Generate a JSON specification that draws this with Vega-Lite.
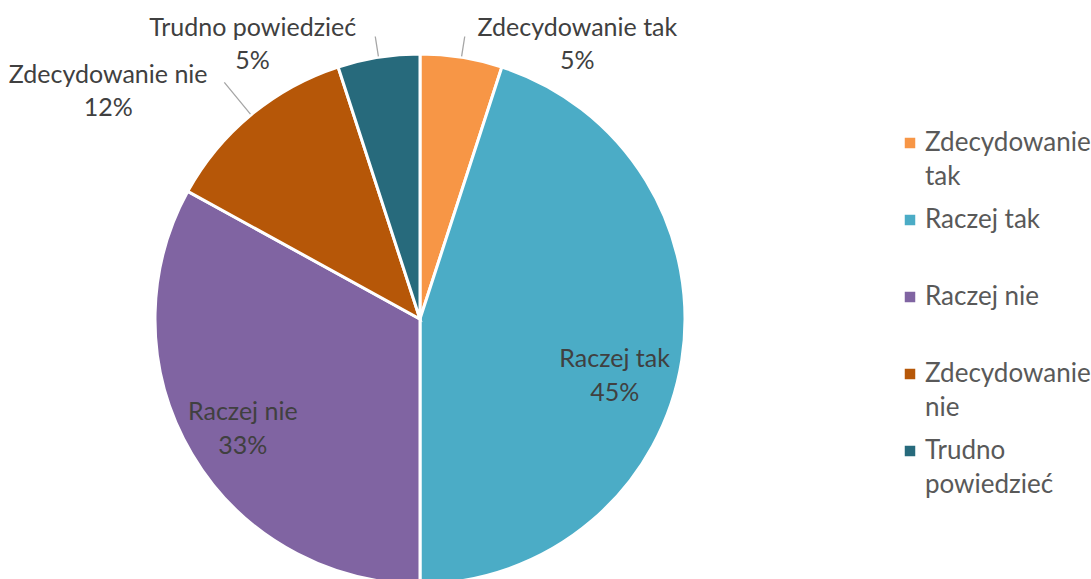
{
  "$schema": "https://vega.github.io/schema/vega-lite/v6.json",
  "width": 840,
  "height": 520,
  "autosize": {"type": "none"},
  "padding": {"left": 0, "top": 59, "right": 251, "bottom": 0},
  "background": "white",
  "data": {"values": [
    {"name": "Zdecydowanie tak", "value": 0.05, "ord": 1},
    {"name": "Raczej tak", "value": 0.45, "ord": 2},
    {"name": "Raczej nie", "value": 0.33, "ord": 3},
    {"name": "Zdecydowanie nie", "value": 0.12, "ord": 4},
    {"name": "Trudno powiedzieć", "value": 0.05, "ord": 5}
  ]},
  "config": {
    "view": {"stroke": null},
    "font": "Lato",
    "style": {"guide-label": {"lineHeight": 34}}
  },
  "layer": [
    {
      "mark": {"type": "arc", "radius": 265, "stroke": "white", "strokeWidth": 3},
      "encoding": {
        "theta": {"field": "value", "type": "quantitative", "stack": true},
        "order": {"field": "ord", "type": "quantitative"},
        "color": {
          "field": "name", "type": "nominal",
          "scale": {
            "domain": ["Zdecydowanie tak", "Raczej tak", "Raczej nie", "Zdecydowanie nie", "Trudno powiedzieć"],
            "range": ["#F79646", "#4BACC6", "#8064A2", "#B65708", "#276A7C"]
          },
          "legend": {
            "title": null,
            "orient": "none",
            "legendX": 897,
            "legendY": 71,
            "padding": 0,
            "symbolType": "square",
            "symbolSize": 110,
            "symbolStrokeWidth": 0,
            "symbolOffset": 0,
            "labelOffset": 2,
            "labelFont": "Lato",
            "labelFontSize": 26,
            "labelColor": "#595959",
            "labelLimit": 250,
            "rowPadding": 17,
            "labelExpr": "datum.label == 'Zdecydowanie tak' ? ['Zdecydowanie', 'tak'] : datum.label == 'Zdecydowanie nie' ? ['Zdecydowanie', 'nie'] : datum.label == 'Trudno powiedzieć' ? ['Trudno', 'powiedzieć'] : [datum.label, '']"
          }
        }
      }
    },
    {
      "transform": [
        {"stack": "value", "groupby": [], "sort": [{"field": "ord", "order": "ascending"}], "as": ["s", "e"]},
        {"filter": {"field": "name", "oneOf": ["Zdecydowanie tak", "Trudno powiedzieć"]}}
      ],
      "mark": {"type": "arc", "innerRadius": 266, "outerRadius": 286, "padAngle": 3, "stroke": "#A6A6A6", "strokeWidth": 1.3, "fill": "transparent"},
      "encoding": {
        "theta": {"field": "s", "type": "quantitative"},
        "theta2": {"field": "e"}
      }
    },
    {
      "transform": [
        {"stack": "value", "groupby": [], "sort": [{"field": "ord", "order": "ascending"}], "as": ["s", "e"]},
        {"filter": {"field": "name", "equal": "Zdecydowanie nie"}}
      ],
      "mark": {"type": "arc", "innerRadius": 266, "outerRadius": 307, "padAngle": 3, "stroke": "#A6A6A6", "strokeWidth": 1.3, "fill": "transparent"},
      "encoding": {
        "theta": {"field": "s", "type": "quantitative"},
        "theta2": {"field": "e"}
      }
    },
    {
      "mark": {"type": "text", "radius": 190, "dx": 7, "dy": 10, "fontSize": 25, "font": "Lato", "color": "#404040"},
      "encoding": {
        "theta": {"field": "value", "type": "quantitative", "stack": true},
        "order": {"field": "ord", "type": "quantitative"},
        "text": {"condition": {"test": "datum.name === 'Raczej tak'", "field": "name", "type": "nominal"}, "value": ""}
      }
    },
    {
      "mark": {"type": "text", "radius": 190, "dx": 7, "dy": 44, "fontSize": 25, "font": "Lato", "color": "#404040"},
      "encoding": {
        "theta": {"field": "value", "type": "quantitative", "stack": true},
        "order": {"field": "ord", "type": "quantitative"},
        "text": {"condition": {"test": "datum.name === 'Raczej tak'", "field": "value", "type": "quantitative", "format": ".0%"}, "value": ""}
      }
    },
    {
      "mark": {"type": "text", "radius": 207, "dx": 1, "dy": -12, "fontSize": 25, "font": "Lato", "color": "#404040"},
      "encoding": {
        "theta": {"field": "value", "type": "quantitative", "stack": true},
        "order": {"field": "ord", "type": "quantitative"},
        "text": {"condition": {"test": "datum.name === 'Raczej nie'", "field": "name", "type": "nominal"}, "value": ""}
      }
    },
    {
      "mark": {"type": "text", "radius": 207, "dx": 1, "dy": 22, "fontSize": 25, "font": "Lato", "color": "#404040"},
      "encoding": {
        "theta": {"field": "value", "type": "quantitative", "stack": true},
        "order": {"field": "ord", "type": "quantitative"},
        "text": {"condition": {"test": "datum.name === 'Raczej nie'", "field": "value", "type": "quantitative", "format": ".0%"}, "value": ""}
      }
    },
    {
      "mark": {"type": "text", "radius": 290, "dx": 112, "dy": -5, "fontSize": 25, "font": "Lato", "color": "#404040"},
      "encoding": {
        "theta": {"field": "value", "type": "quantitative", "stack": true},
        "order": {"field": "ord", "type": "quantitative"},
        "text": {"condition": {"test": "datum.name === 'Zdecydowanie tak'", "field": "name", "type": "nominal"}, "value": ""}
      }
    },
    {
      "mark": {"type": "text", "radius": 290, "dx": 112, "dy": 28, "fontSize": 25, "font": "Lato", "color": "#404040"},
      "encoding": {
        "theta": {"field": "value", "type": "quantitative", "stack": true},
        "order": {"field": "ord", "type": "quantitative"},
        "text": {"condition": {"test": "datum.name === 'Zdecydowanie tak'", "field": "value", "type": "quantitative", "format": ".0%"}, "value": ""}
      }
    },
    {
      "mark": {"type": "text", "radius": 290, "dx": -122, "dy": -5, "fontSize": 25, "font": "Lato", "color": "#404040"},
      "encoding": {
        "theta": {"field": "value", "type": "quantitative", "stack": true},
        "order": {"field": "ord", "type": "quantitative"},
        "text": {"condition": {"test": "datum.name === 'Trudno powiedzieć'", "field": "name", "type": "nominal"}, "value": ""}
      }
    },
    {
      "mark": {"type": "text", "radius": 290, "dx": -122, "dy": 28, "fontSize": 25, "font": "Lato", "color": "#404040"},
      "encoding": {
        "theta": {"field": "value", "type": "quantitative", "stack": true},
        "order": {"field": "ord", "type": "quantitative"},
        "text": {"condition": {"test": "datum.name === 'Trudno powiedzieć'", "field": "value", "type": "quantitative", "format": ".0%"}, "value": ""}
      }
    },
    {
      "mark": {"type": "text", "radius": 290, "dx": -127, "dy": -21, "fontSize": 25, "font": "Lato", "color": "#404040"},
      "encoding": {
        "theta": {"field": "value", "type": "quantitative", "stack": true},
        "order": {"field": "ord", "type": "quantitative"},
        "text": {"condition": {"test": "datum.name === 'Zdecydowanie nie'", "field": "name", "type": "nominal"}, "value": ""}
      }
    },
    {
      "mark": {"type": "text", "radius": 290, "dx": -127, "dy": 12, "fontSize": 25, "font": "Lato", "color": "#404040"},
      "encoding": {
        "theta": {"field": "value", "type": "quantitative", "stack": true},
        "order": {"field": "ord", "type": "quantitative"},
        "text": {"condition": {"test": "datum.name === 'Zdecydowanie nie'", "field": "value", "type": "quantitative", "format": ".0%"}, "value": ""}
      }
    }
  ]
}
